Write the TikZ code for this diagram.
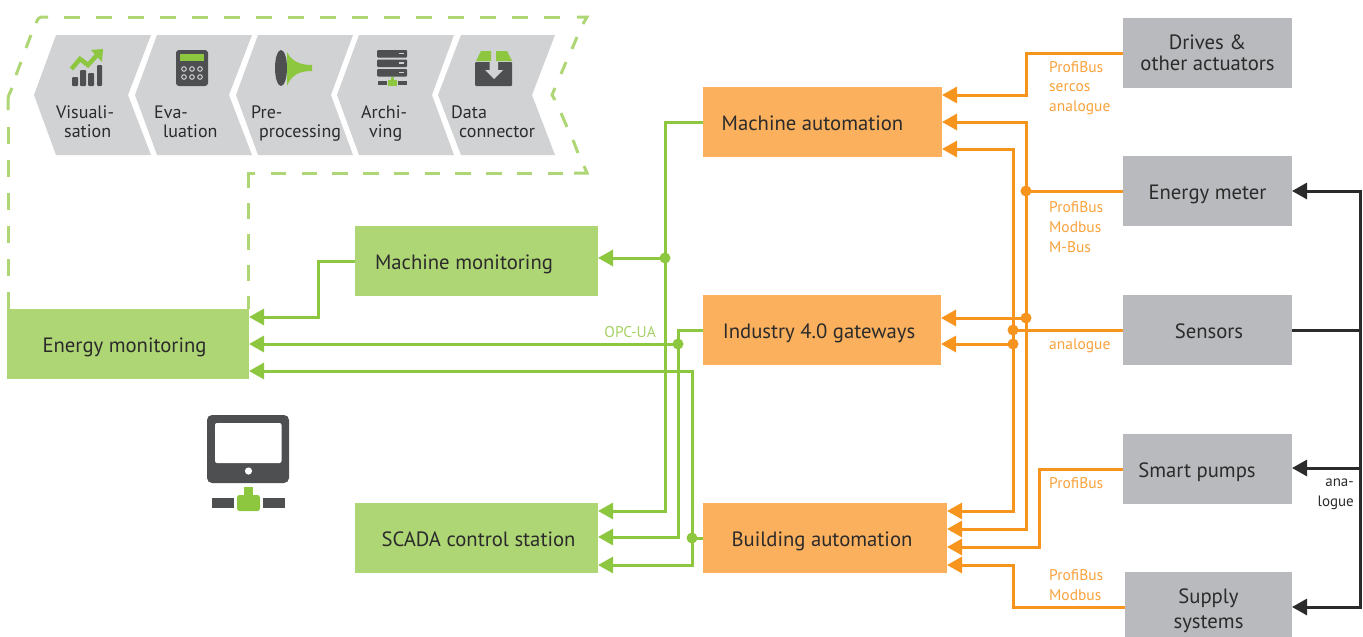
\documentclass[tikz,border=0pt]{standalone}
\usepackage{fontspec}
\setmainfont{PT Sans}
\usetikzlibrary{arrows.meta,calc}
\definecolor{gbox}{HTML}{AFD675}
\definecolor{gln}{HTML}{8DC63F}
\definecolor{obox}{HTML}{FBB05D}
\definecolor{oln}{HTML}{F7941E}
\definecolor{gry}{HTML}{B9BABD}
\definecolor{chev}{HTML}{D1D2D4}
\definecolor{dk}{HTML}{4D4F50}
\definecolor{txt}{HTML}{2B2B2B}
\definecolor{otxt}{HTML}{F9A23C}
\tikzset{
 box/.style={minimum height=70pt,inner sep=0pt,outer sep=0pt,text=txt,font=\fontsize{20.7}{21}\selectfont},
 line1/.style={text height=16pt,text depth=0pt},
 gb/.style={box,line1,fill=gbox},
 ob/.style={box,line1,fill=obox},
 gyb/.style={box,line1,fill=gry},
 gy2/.style={box,fill=gry,align=center},
 gline/.style={draw=gln,line width=3pt},
 oline/.style={draw=oln,line width=3pt},
 kline/.style={draw=txt,line width=3pt},
 ar/.style={-{Triangle[length=15pt,width=16pt]}},
 rar/.style={{Triangle[length=15pt,width=16pt]}-{Triangle[length=15pt,width=16pt]}},
 gdot/.style={circle,fill=gln,minimum size=11pt,inner sep=0pt},
 odot/.style={circle,fill=oln,minimum size=11pt,inner sep=0pt},
 olab/.style={text=otxt,font=\fontsize{15.5}{19.7}\selectfont,anchor=west,align=left,inner sep=0pt},
 chevt/.style={text=txt,font=\fontsize{18}{19.5}\selectfont,align=left,anchor=north west,inner sep=0pt},
 dsh/.style={draw=gbox,line width=3pt},
}
\begin{document}
\begin{tikzpicture}[x=1pt,y=-1pt]
\useasboundingbox (0,0) rectangle (1363,637);
% dashed outline
\draw[dsh,dash pattern=on 17pt off 16pt] (8,127) -- (8,309);
\draw[dsh,rounded corners=2pt] (8,110) -- (8,97) -- (12,88);
\draw[dsh] (16,75) -- (21,62);
\draw[dsh] (26,48) -- (31,35);
\draw[dsh,rounded corners=2pt] (36,23) -- (39,17) -- (48,17);
\draw[dsh,dash pattern=on 16pt off 16pt] (64,17) -- (576,17);
\draw[dsh,miter limit=10] (577,17) -- (587,17) -- (583,24);
\draw[dsh] (577,37) -- (572,49);
\draw[dsh] (566,62) -- (561,74);
\draw[dsh] (555,88) -- (552,95) -- (555,100);
\draw[dsh] (561,113) -- (567,127);
\draw[dsh] (573,140) -- (578,153);
\draw[dsh,miter limit=10] (584,166) -- (587,173) -- (574,173);
\draw[dsh,dash pattern=on 15.4pt off 15.35pt] (563,173) -- (271,173);
\draw[dsh,miter limit=10] (255,173) -- (248,173) -- (248,188);
\draw[dsh,dash pattern=on 16pt off 15pt] (248,203) -- (248,309);
% chevrons
\fill[chev] (56,35) -- (151,35) -- (128,95) -- (151,155) -- (56,155) -- (34,95) -- cycle;
\fill[chev] (157,35) -- (252,35) -- (229,95) -- (252,155) -- (157,155) -- (135,95) -- cycle;
\fill[chev] (258,35) -- (353,35) -- (331,95) -- (353,155) -- (258,155) -- (236,95) -- cycle;
\fill[chev] (359,35) -- (454,35) -- (432,95) -- (454,155) -- (359,155) -- (337,95) -- cycle;
\fill[chev] (461,35) -- (555,35) -- (532,95) -- (555,155) -- (461,155) -- (438,95) -- cycle;
\node[chevt] (c1) at (56,106) {Visuali-\\[-0.5pt]\hspace*{8pt}sation};
\node[chevt] (c2) at (154,106) {Eva-\\[-0.5pt]\hspace*{9pt}luation};
\node[chevt] (c3) at (251,106) {Pre-\\[-0.5pt]\hspace*{8pt}processing};
\node[chevt] (c4) at (361,106) {Archi-\\[-0.5pt]\hspace*{8pt}ving};
\node[chevt] (c5) at (451,106) {Data\\[-0.5pt]\hspace*{8pt}connector};
% icon: visualisation
\fill[dk,rounded corners=1pt] (72,77) rectangle (78,86);
\fill[dk,rounded corners=1pt] (80,70) rectangle (86,86);
\fill[dk,rounded corners=1pt] (88,73) rectangle (94,86);
\fill[dk,rounded corners=1pt] (97,65) rectangle (102,86);
\draw[draw=gln,line width=4.5pt] (71.5,69) -- (80,59) -- (88,65) -- (98,54);
\fill[gln] (91,50) -- (103,49) -- (102,62) -- cycle;
% icon: calculator
\fill[dk,rounded corners=3pt] (176,50) rectangle (208,86);
\fill[gln] (180,54) rectangle (204,61);
\foreach \px in {184,192,200}\foreach \py in {69,77}{\draw[chev,line width=1pt] (\px,\py) circle (2.3pt);}
% icon: preprocessing
\fill[dk] (281,68) ellipse (6pt and 18pt);
\fill[gln] (287,52) .. controls (291,60) and (298,65) .. (312,65) -- (312,71) .. controls (298,71) and (291,76) .. (287,86) -- cycle;
% icon: archiving
\foreach \py in {50,59.5,69}{\fill[dk,rounded corners=1pt] (377,\py) rectangle (407,\py+7.5);\fill[chev] (399,\py+2.5) rectangle (404,\py+4);}
\fill[dk] (378,81) rectangle (387,85);
\fill[dk] (398,81) rectangle (407,85);
\fill[gln] (388,80) rectangle (397,86);
\fill[gln] (391,76.5) rectangle (394,80);
% icon: data connector
\fill[dk,rounded corners=1pt] (475,62) rectangle (512,86);
\fill[gln] (481,51) -- (491,51) -- (491,61) -- (476,61) -- cycle;
\fill[gln] (496,51) -- (507,51) -- (512,61) -- (496,61) -- cycle;
\fill[chev] (489.5,62) -- (498,62) -- (498,70) -- (503,70) -- (494,79) -- (485,70) -- (489.5,70) -- cycle;
% icon: monitor
\fill[dk,rounded corners=5pt] (207,415) rectangle (289,483);
\fill[white,rounded corners=2pt] (215,423) rectangle (281.5,463);
\fill[white] (248.5,471) circle (3.6pt);
\fill[dk] (212,498) rectangle (234,508);
\fill[dk] (263,498) rectangle (285,508);
\fill[gln] (243.7,487) rectangle (253,496);
\fill[gln,rounded corners=2.5pt] (237,495) rectangle (260,511);
% boxes
\node[gb,minimum width=242pt] (em) at (128,344) {Energy monitoring\hspace*{7pt}};
\node[gb,minimum width=243pt] (mm) at (476.5,261) {Machine monitoring\hspace*{25pt}};
\node[gb,minimum width=243pt] (sc) at (476.5,538) {\hspace*{4pt}SCADA control station};
\node[ob,minimum width=239pt] (ma) at (822.5,122) {Machine automation\hspace*{20pt}};
\node[ob,minimum width=238pt] (ig) at (822,330) {Industry 4.0 gateways\hspace*{6pt}};
\node[ob,minimum width=244pt] (ba) at (825,538) {Building automation\hspace*{6pt}};
\node[gy2,minimum width=169pt] (dr) at (1207.5,53) {Drives \&\\other actuators};
\node[gyb,minimum width=169pt] (me) at (1207.5,191) {Energy meter};
\node[gyb,minimum width=169pt] (se) at (1207.5,330) {\hspace*{3pt}Sensors};
\node[gyb,minimum width=169pt] (sp) at (1207.5,469) {Smart pumps\hspace*{21pt}};
\node[gy2,minimum width=167pt,minimum height=77pt,font=\fontsize{20.7}{25}\selectfont] (su) at (1208.5,610.5) {Supply\\systems};
% junction dots
\node[gdot] (d1) at (665,258) {};
\node[gdot] (d2) at (678,344) {};
\node[gdot] (d3) at (692,538) {};
\node[odot] (d4) at (1026,191) {};
\node[odot] (d5) at (1013,330) {};
\node[odot] (d6) at (1026,318) {};
\node[odot] (d7) at (1013,344) {};
% bends
\coordinate (a) at (665,511);
\coordinate (b) at (318,317);
\coordinate (cc) at (678,537);
\coordinate (e1) at (692,371);
\coordinate (e2) at (692,565);
\coordinate (f) at (1026,95);
\coordinate (f2) at (1026,122);
\coordinate (f3) at (1026,529);
\coordinate (g1) at (1013,149);
\coordinate (g2) at (1013,511);
\coordinate (h) at (1039,547);
\coordinate (i) at (1013,565);
\coordinate (k1) at (1360,191);
\coordinate (k2) at (1360,468);
\coordinate (k3) at (1360,607);
\coordinate (k) at (1360,330);
\coordinate (suw) at (1125,607);
% green connectors
\draw[gline,ar] (ma.west) -| (a) -- (a -| sc.east);
\draw[gline,ar] (d1.center) -- (d1 -| mm.east);
\draw[gline,ar] (mm.west) -| (b) -- (b -| em.east);
\draw[gline,ar] (ig.west) -| (cc) -- (cc -| sc.east);
\draw[gline,ar] (d2.center) -- (d2 -| em.east);
\draw[gline] (ba.west) -- (d3.center);
\draw[gline,rar] (e1 -| em.east) -- (e1) -- (e2) -- (e2 -| sc.east);
% orange connectors
\draw[oline,ar] (dr.west) -| (f) -- (f -| ma.east);
\draw[oline] (me.west) -- (d4.center);
\draw[oline,rar] (f2 -| ma.east) -- (f2) -- (f3) -- (f3 -| ba.east);
\draw[oline,rar] (g1 -| ma.east) -- (g1) -- (g2) -- (g2 -| ba.east);
\draw[oline] (se.west) -- (d5.center);
\draw[oline,ar] (d6.center) -- (d6 -| ig.east);
\draw[oline,ar] (d7.center) -- (d7 -| ig.east);
\draw[oline,ar] (sp.west) -| (h) -- (h -| ba.east);
\draw[oline,ar] (suw -| su.west) -| (i) -- (i -| ba.east);
% black connectors
\draw[kline,rar] (k1 -| me.east) -- (k1) -- (k3) -- (k3 -| su.east);
\draw[kline] (se.east) -- (k);
\draw[kline,ar] (k2) -- (k2 -| sp.east);
% labels
\node[olab] (l1) at (1049,88) {ProfiBus\\sercos\\analogue};
\node[olab] (l2) at (1049,227) {ProfiBus\\Modbus\\M-Bus};
\node[olab] (l3) at (1049,346) {analogue};
\node[olab] (l4) at (1049,483) {ProfiBus};
\node[olab] (l5) at (1049,585) {ProfiBus\\Modbus};
\node[olab,text=gbox!70!gln,anchor=east] (l6) at (656,332) {OPC-UA};
\node[text=txt,font=\fontsize{15}{20}\selectfont,align=right,anchor=east,inner sep=0pt] (l7) at (1354,494) {ana-\\logue};
\end{tikzpicture}
\end{document}
